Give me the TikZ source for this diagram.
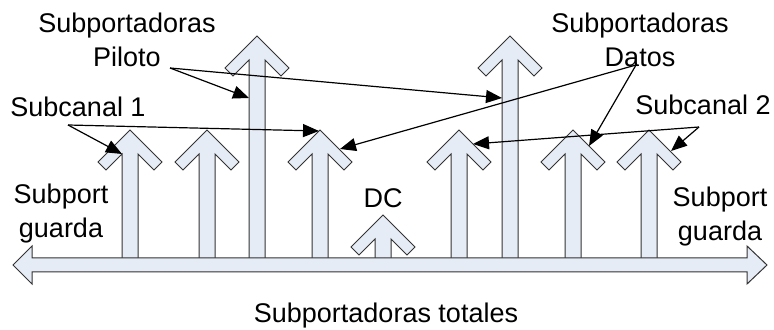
\documentclass[tikz,border=0pt]{standalone}
\usepackage{fontspec}
\setmainfont{Liberation Sans}
\usepackage{tikz}
\usetikzlibrary{arrows.meta,  % pointes des fleches
           calc}
\definecolor{bleupale}{RGB}{230,236,246}
\tikzset{fleche/.style={fill=bleupale,draw=black!80,line width=0.5pt,line join=miter},
         txt/.style={font=\fontsize{13.5}{17}\selectfont,align=center,anchor=base,inner sep=0pt},
         renvoi/.style={line width=0.6pt,-{Triangle[length=8pt,width=6.5pt]}}}

\begin{document}
\begin{tikzpicture}[x=0.5pt,y=-0.5pt]
\useasboundingbox(0,0)rectangle(774,330);
% sous-porteuses
\foreach \c/\h in {130/130,207/130,257/36,320/130,383/215,459/130,510/36,573/130,649/130}
  \draw[fleche](\c-8,258)--(\c-8,\h+24)--(\c-24,\h+40)--(\c-32,\h+32)--(\c,\h)--(\c+32,\h+32)--(\c+24,\h+40)--(\c+8,\h+24)--(\c+8,258);
% axe
\draw[fleche](13,265)--(32,246)--(32,258)--(747,258)--(747,246)--(767,265)--(747,284)--(747,272)--(32,272)--(32,284)--cycle;
% textes (base = derniere ligne)
\node[txt](piloto)at(127,67){Subportadoras\\Piloto};
\node[txt](datos)at(640,67){Subportadoras\\Datos};
\node[txt](sub1)at(78,117){Subcanal 1};
\node[txt](sub2)at(703,115){Subcanal 2};
\node[txt](gardeG)at(61,238){Subport\\guarda};
\node[txt](gardeD)at(720,241){Subport\\guarda};
\node[txt](dc)at(383,208){DC};
\node[txt](totales)at(386,322){Subportadoras totales};
% renvois
\coordinate(pP)at(170,68);\coordinate(pD)at(636,65);
\coordinate(p1)at(68,125);\coordinate(p2)at(699,127);
\coordinate(aP1)at(249,98);\coordinate(aP2)at(502,98);
\coordinate(a11)at(122,154);\coordinate(a12)at(319,131);
\coordinate(aD1)at(340,149);\coordinate(aD2)at(589,146);
\coordinate(a21)at(671,151);\coordinate(a22)at(473,144);
\draw[renvoi](pP)--(aP1);\draw[renvoi](pP)--(aP2);
\draw[renvoi](p1)--(a11);\draw[renvoi](p1)--(a12);
\draw[renvoi](pD)--(aD1);\draw[renvoi](pD)--(aD2);
\draw[renvoi](p2)--(a21);\draw[renvoi](p2)--(a22);
\end{tikzpicture}
\end{document}
